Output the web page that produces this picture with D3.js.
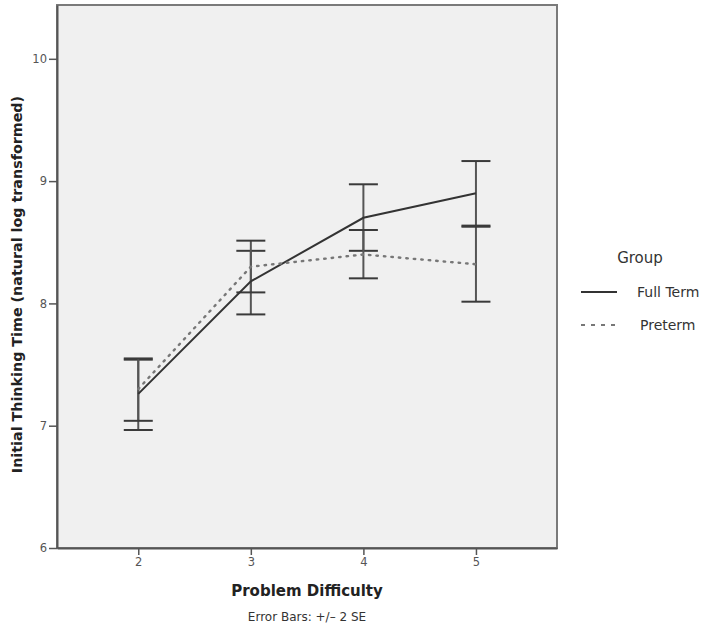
<!DOCTYPE html>
<html>
<head>
<meta charset="utf-8">
<script src="https://cdn.jsdelivr.net/npm/d3@7"></script>
<style>
  body { margin: 0; background: #fff; }
  svg { display: block; }
</style>
</head>
<body>
<svg id="chart" width="710" height="631"></svg>
<script>
// ---- data ----
const difficulty = [2, 3, 4, 5];
const fullTermMean  = [7.26, 8.18, 8.70, 8.90];
const fullTermLow   = [6.965, 7.91, 8.43, 8.636];
const fullTermHigh  = [7.54, 8.43, 8.974, 9.164];
const pretermMean   = [7.30, 8.30, 8.40, 8.32];
const pretermLow    = [7.04, 8.09, 8.205, 8.014];
const pretermHigh   = [7.55, 8.513, 8.60, 8.627];
const yTicks = [6, 7, 8, 9, 10];
const groups = ["Full Term", "Preterm"];

(function () {
const series = [
  { name: groups[0], mean: fullTermMean, lo: fullTermLow, hi: fullTermHigh, dash: null },
  { name: groups[1], mean: pretermMean, lo: pretermLow, hi: pretermHigh, dash: "1.5,6" }
];

const svg = d3.select("#chart");
const pLeft = 57, pRight = 557, pTop = 5, pBottom = 548;

const x = d3.scaleLinear().domain([1.278, 5.72]).range([pLeft, pRight]);
const y = d3.scaleLinear().domain([6, 10.44]).range([pBottom, pTop]);

// plot background
svg.append("rect")
  .attr("x", pLeft).attr("y", pTop)
  .attr("width", pRight - pLeft).attr("height", pBottom - pTop)
  .attr("fill", "#f0f0f0")
  .attr("stroke", "#7a7a7a").attr("stroke-width", 2);

// axes
const yAxis = d3.axisLeft(y).tickValues(yTicks).tickSize(8).tickSizeOuter(0).tickFormat(d3.format("d"));
const gy = svg.append("g").attr("transform", `translate(${pLeft},0)`).call(yAxis);
gy.select(".domain").attr("stroke", "#555").attr("stroke-width", 2);
gy.selectAll(".tick line").attr("stroke", "#555").attr("stroke-width", 1.5);
gy.selectAll(".tick text").attr("fill", "#555").attr("font-family", "DejaVu Sans, sans-serif")
  .attr("font-size", 11.5).attr("x", -10);

const xAxis = d3.axisBottom(x).tickValues(difficulty).tickSize(7).tickSizeOuter(0).tickFormat(d3.format("d"));
const gx = svg.append("g").attr("transform", `translate(0,${pBottom})`).call(xAxis);
gx.select(".domain").attr("stroke", "#555").attr("stroke-width", 2);
gx.selectAll(".tick line").attr("stroke", "#555").attr("stroke-width", 1.5);
gx.selectAll(".tick text").attr("fill", "#555").attr("font-family", "DejaVu Sans, sans-serif")
  .attr("font-size", 11.5).attr("y", 10);

// error bars
const capHalf = 14.5;
series.forEach(s => {
  const g = svg.append("g");
  difficulty.forEach((d, i) => {
    g.append("line").attr("x1", x(d)).attr("x2", x(d))
      .attr("y1", y(s.lo[i])).attr("y2", y(s.hi[i]))
      .attr("stroke", "#555").attr("stroke-width", 2);
    [s.lo[i], s.hi[i]].forEach(v => {
      g.append("line").attr("x1", x(d) - capHalf).attr("x2", x(d) + capHalf)
        .attr("y1", y(v)).attr("y2", y(v))
        .attr("stroke", "#3a3a3a").attr("stroke-width", 2);
    });
  });
});

// lines
const line = d3.line().x((d, i) => x(difficulty[i])).y(d => y(d));
series.forEach(s => {
  svg.append("path").datum(s.mean)
    .attr("d", line)
    .attr("fill", "none")
    .attr("stroke", s.dash ? "#777" : "#333")
    .attr("stroke-width", s.dash ? 2.4 : 2)
    .attr("stroke-linecap", s.dash ? "round" : "butt")
    .attr("stroke-dasharray", s.dash);
});

// axis titles
svg.append("text")
  .attr("transform", `translate(22,${(pTop + pBottom) / 2 + 8}) rotate(-90)`)
  .attr("text-anchor", "middle")
  .attr("font-family", "DejaVu Sans, sans-serif").attr("font-weight", "bold")
  .attr("font-size", 14.3).attr("fill", "#222")
  .text("Initial Thinking Time (natural log transformed)");

svg.append("text")
  .attr("x", (pLeft + pRight) / 2).attr("y", 596)
  .attr("text-anchor", "middle")
  .attr("font-family", "DejaVu Sans, sans-serif").attr("font-weight", "bold")
  .attr("font-size", 15).attr("fill", "#222")
  .text("Problem Difficulty");

svg.append("text")
  .attr("x", (pLeft + pRight) / 2).attr("y", 621)
  .attr("text-anchor", "middle")
  .attr("font-family", "DejaVu Sans, sans-serif")
  .attr("font-size", 12).attr("fill", "#333")
  .text("Error Bars: +/\u2013 2 SE");

// legend
const lg = svg.append("g");
lg.append("text").attr("x", 640).attr("y", 263).attr("text-anchor", "middle")
  .attr("font-family", "DejaVu Sans, sans-serif").attr("font-size", 15).attr("fill", "#333")
  .text("Group");
series.forEach((s, i) => {
  const yy = 292 + i * 33;
  lg.append("line").attr("x1", 581).attr("x2", 617).attr("y1", yy).attr("y2", yy)
    .attr("stroke", s.dash ? "#777" : "#333").attr("stroke-width", 2)
    .attr("stroke-linecap", "butt")
    .attr("stroke-dasharray", s.dash ? "4,6" : null);
  lg.append("text").attr("x", i === 0 ? 637 : 640).attr("y", yy + 5)
    .attr("font-family", "DejaVu Sans, sans-serif").attr("font-size", 14).attr("fill", "#333")
    .text(s.name);
});
})();
</script>
</body>
</html>
